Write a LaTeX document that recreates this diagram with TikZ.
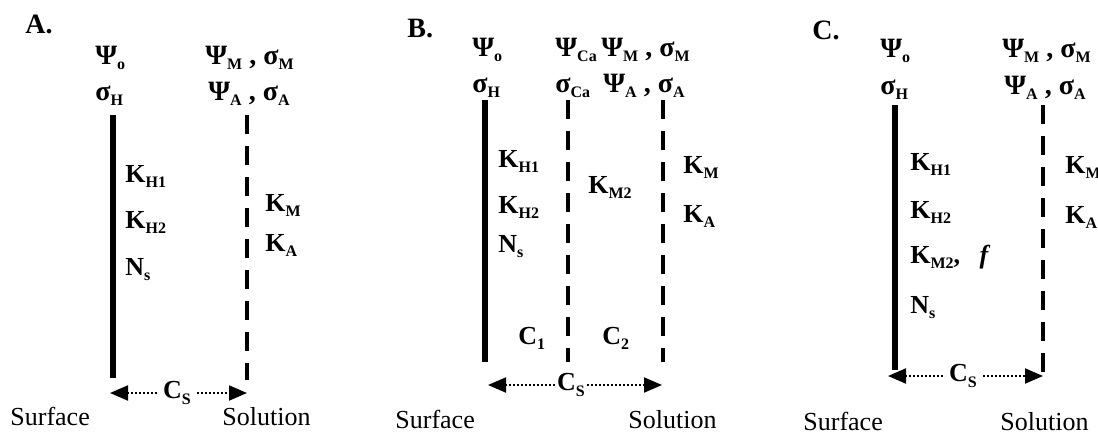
\documentclass[tikz,border=0pt]{standalone}
\usepackage{fontspec}
\setmainfont{Liberation Serif}
\usetikzlibrary{arrows.meta}
\newcommand{\subx}[1]{\raisebox{-2.8pt}{\fontsize{8}{8}\selectfont\bfseries #1}}

\begin{document}
\begin{tikzpicture}[
    x=0.5pt, y=-0.5pt,
    lbl/.style={anchor=base west, inner sep=0pt, font=\bfseries\fontsize{13}{15}\selectfont},
    panel/.style={anchor=base west, inner sep=0pt, font=\bfseries\fontsize{14}{16}\selectfont},
    side/.style={anchor=base west, inner sep=0pt, font=\fontsize{13}{15}\selectfont},
    surf/.style={line width=2.6pt},
    plane/.style={line width=2.2pt, dash pattern=on 9.5pt off 6pt},
    cslbl/.style={inner sep=3pt, font=\bfseries\fontsize{13}{15}\selectfont},
    span/.style={line width=1pt, dash pattern=on 1pt off 1pt, -{Triangle[length=9pt,width=7.5pt]}}
]
\useasboundingbox (0,0) rectangle (1098,434);

% Panel A
\node[panel] (labA) at (25,33) {A.};
\node[lbl] (psoA) at (95,64) {\fontsize{14}{15}\selectfont Ψ\subx{o}};
\node[lbl] (sghA) at (95,100) {\fontsize{14}{15}\selectfont σ\subx{H}};
\node[lbl] (psmA) at (205,64) {\fontsize{14}{15}\selectfont Ψ\subx{M} , σ\subx{M}};
\node[lbl] (psaA) at (208,100) {\fontsize{14}{15}\selectfont Ψ\subx{A} , σ\subx{A}};

\coordinate (sA1) at (113,115);
\coordinate (sA2) at (113,378);
\coordinate (mA1) at (247,115);
\coordinate (mA2) at (247,380);
\draw[surf] (sA1) -- (sA2);
\draw[plane] (mA1) -- (mA2);

\node[lbl] (kh1A) at (125,182) {K\subx{H1}};
\node[lbl] (kh2A) at (125,228) {K\subx{H2}};
\node[lbl] (nsA) at (125,275) {N\subx{s}};
\node[lbl] (kmA) at (265,211) {K\subx{M}};
\node[lbl] (kaA) at (265,251) {K\subx{A}};

\node[cslbl] (csA) at (177,393) {C\subx{S}};
\coordinate (lA) at (110,393);
\coordinate (rA) at (247,393);
\draw[span] (csA) -- (lA);
\draw[span] (csA) -- (rA);

\node[side] (surfA) at (10,425) {Surface};
\node[side] (solA) at (222,425) {Solution};

% Panel B
\node[panel] (labB) at (407,37) {B.};
\node[lbl] (psoB) at (472,56) {\fontsize{14}{15}\selectfont Ψ\subx{o}};
\node[lbl] (sghB) at (472,92) {\fontsize{14}{15}\selectfont σ\subx{H}};
\node[lbl] (pscB) at (555,56) {\fontsize{14}{15}\selectfont Ψ\subx{Ca}};
\node[lbl] (sgcB) at (555,92) {\fontsize{14}{15}\selectfont σ\subx{Ca}};
\node[lbl] (psmB) at (601,56) {\fontsize{14}{15}\selectfont Ψ\subx{M} , σ\subx{M}};
\node[lbl] (psaB) at (603,92) {\fontsize{14}{15}\selectfont Ψ\subx{A} , σ\subx{A}};

\coordinate (sB1) at (485,100);
\coordinate (sB2) at (485,362);
\coordinate (cB1) at (568,100);
\coordinate (cB2) at (568,362);
\coordinate (mB1) at (663,100);
\coordinate (mB2) at (663,362);
\draw[surf] (sB1) -- (sB2);
\draw[plane] (cB1) -- (cB2);
\draw[plane] (mB1) -- (mB2);

\node[lbl] (kh1B) at (498,167) {K\subx{H1}};
\node[lbl] (kh2B) at (498,213) {K\subx{H2}};
\node[lbl] (nsB) at (498,252) {N\subx{s}};
\node[lbl] (km2B) at (588,193) {K\subx{M2}};
\node[lbl] (kmB) at (683,173) {K\subx{M}};
\node[lbl] (kaB) at (683,222) {K\subx{A}};
\node[lbl] (c1B) at (518,344) {C\subx{1}};
\node[lbl] (c2B) at (602,344) {C\subx{2}};

\node[cslbl, inner sep=1pt] (csB) at (571,385) {C\subx{S}};
\coordinate (lB) at (488,385);
\coordinate (rB) at (662,385);
\draw[span] (csB) -- (lB);
\draw[span] (csB) -- (rB);

\node[side] (surfB) at (395,428) {Surface};
\node[side] (solB) at (628,428) {Solution};

% Panel C
\node[panel] (labC) at (812,39) {C.};
\node[lbl] (psoC) at (880,57) {\fontsize{14}{15}\selectfont Ψ\subx{o}};
\node[lbl] (sghC) at (880,94) {\fontsize{14}{15}\selectfont σ\subx{H}};
\node[lbl] (psmC) at (1002,57) {\fontsize{14}{15}\selectfont Ψ\subx{M} , σ\subx{M}};
\node[lbl] (psaC) at (1004,94) {\fontsize{14}{15}\selectfont Ψ\subx{A} , σ\subx{A}};

\coordinate (sC1) at (895,105);
\coordinate (sC2) at (895,370);
\coordinate (mC1) at (1043,105);
\coordinate (mC2) at (1043,372);
\draw[surf] (sC1) -- (sC2);
\draw[plane] (mC1) -- (mC2);

\node[lbl] (kh1C) at (910,170) {K\subx{H1}};
\node[lbl] (kh2C) at (910,218) {K\subx{H2}};
\node[lbl] (km2C) at (910,263) {K\subx{M2}, \enspace\textit{f}};
\node[lbl] (nsC) at (910,313) {N\subx{s}};
\node[lbl] (kmC) at (1065,173) {K\subx{M}};
\node[lbl] (kaC) at (1065,223) {K\subx{A}};

\node[cslbl] (csC) at (963,376) {C\subx{S}};
\coordinate (lC) at (888,376);
\coordinate (rC) at (1043,376);
\draw[span] (csC) -- (lC);
\draw[span] (csC) -- (rC);

\node[side] (surfC) at (803,430) {Surface};
\node[side] (solC) at (1000,430) {Solution};

\end{tikzpicture}
\end{document}
